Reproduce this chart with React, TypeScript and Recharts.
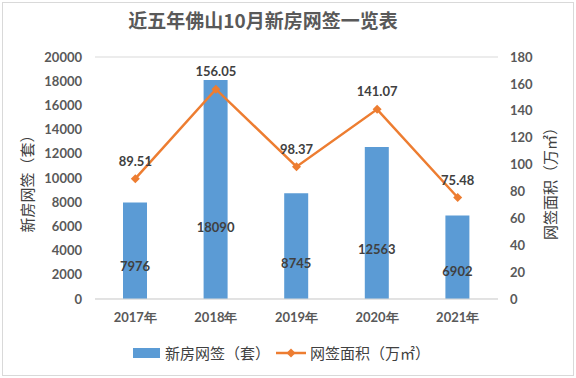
import { ComposedChart, Bar, Line, XAxis, YAxis, CartesianGrid, LabelList } from "recharts";

const years = ["2017年", "2018年", "2019年", "2020年", "2021年"];
const units = [7976, 18090, 8745, 12563, 6902];
const area = [89.51, 156.05, 98.37, 141.07, 75.48];
const leftTicks = [0, 2000, 4000, 6000, 8000, 10000, 12000, 14000, 16000, 18000, 20000];
const rightTicks = [0, 20, 40, 60, 80, 100, 120, 140, 160, 180];
const barName = "新房网签（套）";
const lineName = "网签面积（万㎡）";

const data = years.map((y, i) => ({ year: y, units: units[i], area: area[i] }));

const BLUE = "#5B9BD5";
const ORANGE = "#ED7D31";
const num = "Lato, 'Noto Sans', sans-serif";
const cjk = "'Noto Sans CJK SC', sans-serif";
const tick = { fill: "#595959", fontSize: 13, fontWeight: 700, fontFamily: num };

const Diamond = (props: any) => {
    const { cx, cy } = props;
    if (cx == null || cy == null) return null;
    const r = 4.5;
    return <path d={`M${cx},${cy - r} L${cx + r},${cy} L${cx},${cy + r} L${cx - r},${cy} Z`} fill={ORANGE} />;
};

const BarLabel = (props: any) => {
    const { x, y, width, height, value } = props;
    return (
        <text x={x + width / 2} y={y + height * 0.68} textAnchor="middle" dominantBaseline="middle"
            fill="#404040" fontSize={13} fontWeight={700} fontFamily={num}>
            {value}
        </text>
    );
};

export default function App() {
    return (
        <div style={{ position: "absolute", left: 0, top: 0, width: 576, height: 378, background: "#fff", overflow: "hidden" }}>
            <div style={{ position: "absolute", left: 2, top: 2, right: 2, bottom: 2, border: "1px solid #d9d9d9" }} />
            <div style={{ position: "absolute", top: 6, left: 0, width: 526, textAlign: "center", fontFamily: cjk, fontSize: 19, fontWeight: 700, color: "#595959" }}>
                近五年佛山10月新房网签一览表
            </div>
            <div style={{ position: "absolute", left: 26, top: 180, transform: "translate(-50%, -50%) rotate(-90deg)", whiteSpace: "nowrap", fontFamily: cjk, fontSize: 15, color: "#404040" }}>
                {barName}
            </div>
            <div style={{ position: "absolute", left: 549, top: 180, transform: "translate(-50%, -50%) rotate(-90deg)", whiteSpace: "nowrap", fontFamily: cjk, fontSize: 15, color: "#404040" }}>
                {lineName}
            </div>
            <ComposedChart width={576} height={378} data={data} margin={{ top: 57, right: 38, bottom: 49, left: 0 }}
                style={{ position: "absolute", left: 0, top: 0 }}>
                <CartesianGrid vertical={false} stroke="#d9d9d9" />
                <XAxis dataKey="year" height={30} axisLine={{ stroke: "#d9d9d9" }} tickLine={false} tickMargin={8} tick={tick} />
                <YAxis yAxisId="left" width={95} domain={[0, 20000]} ticks={leftTicks} axisLine={false} tickLine={false}
                    tickMargin={7} tick={tick} interval={0} />
                <YAxis yAxisId="right" orientation="right" width={40} domain={[0, 180]} ticks={rightTicks} axisLine={false}
                    tickLine={false} tickMargin={6} tick={{ ...tick, textAnchor: "start" }} interval={0} />
                <Bar yAxisId="left" dataKey="units" name={barName} fill={BLUE} barSize={24} isAnimationActive={false}>
                    <LabelList dataKey="units" content={BarLabel} />
                </Bar>
                <Line yAxisId="right" dataKey="area" name={lineName} type="linear" stroke={ORANGE} strokeWidth={2.5}
                    dot={Diamond} activeDot={false} isAnimationActive={false}>
                    <LabelList dataKey="area" position="top" offset={13} formatter={(v: any) => Number(v).toFixed(2)}
                        fill="#404040" fontSize={13} fontWeight={700} fontFamily={num} />
                </Line>
            </ComposedChart>
            <div style={{ position: "absolute", top: 342, left: 133, display: "flex", alignItems: "center", fontFamily: cjk, fontSize: 15, color: "#404040", whiteSpace: "nowrap" }}>
                <span style={{ display: "inline-block", width: 27, height: 10, background: BLUE, marginRight: 5 }} />
                <span>{barName}</span>
                <svg width={34} height={12} style={{ margin: "0 2px 0 4px" }}>
                    <line x1={2} y1={6} x2={32} y2={6} stroke={ORANGE} strokeWidth={2.5} />
                    <path d="M17,1.5 L21.5,6 L17,10.5 L12.5,6 Z" fill={ORANGE} />
                </svg>
                <span>{lineName}</span>
            </div>
        </div>
    );
}
